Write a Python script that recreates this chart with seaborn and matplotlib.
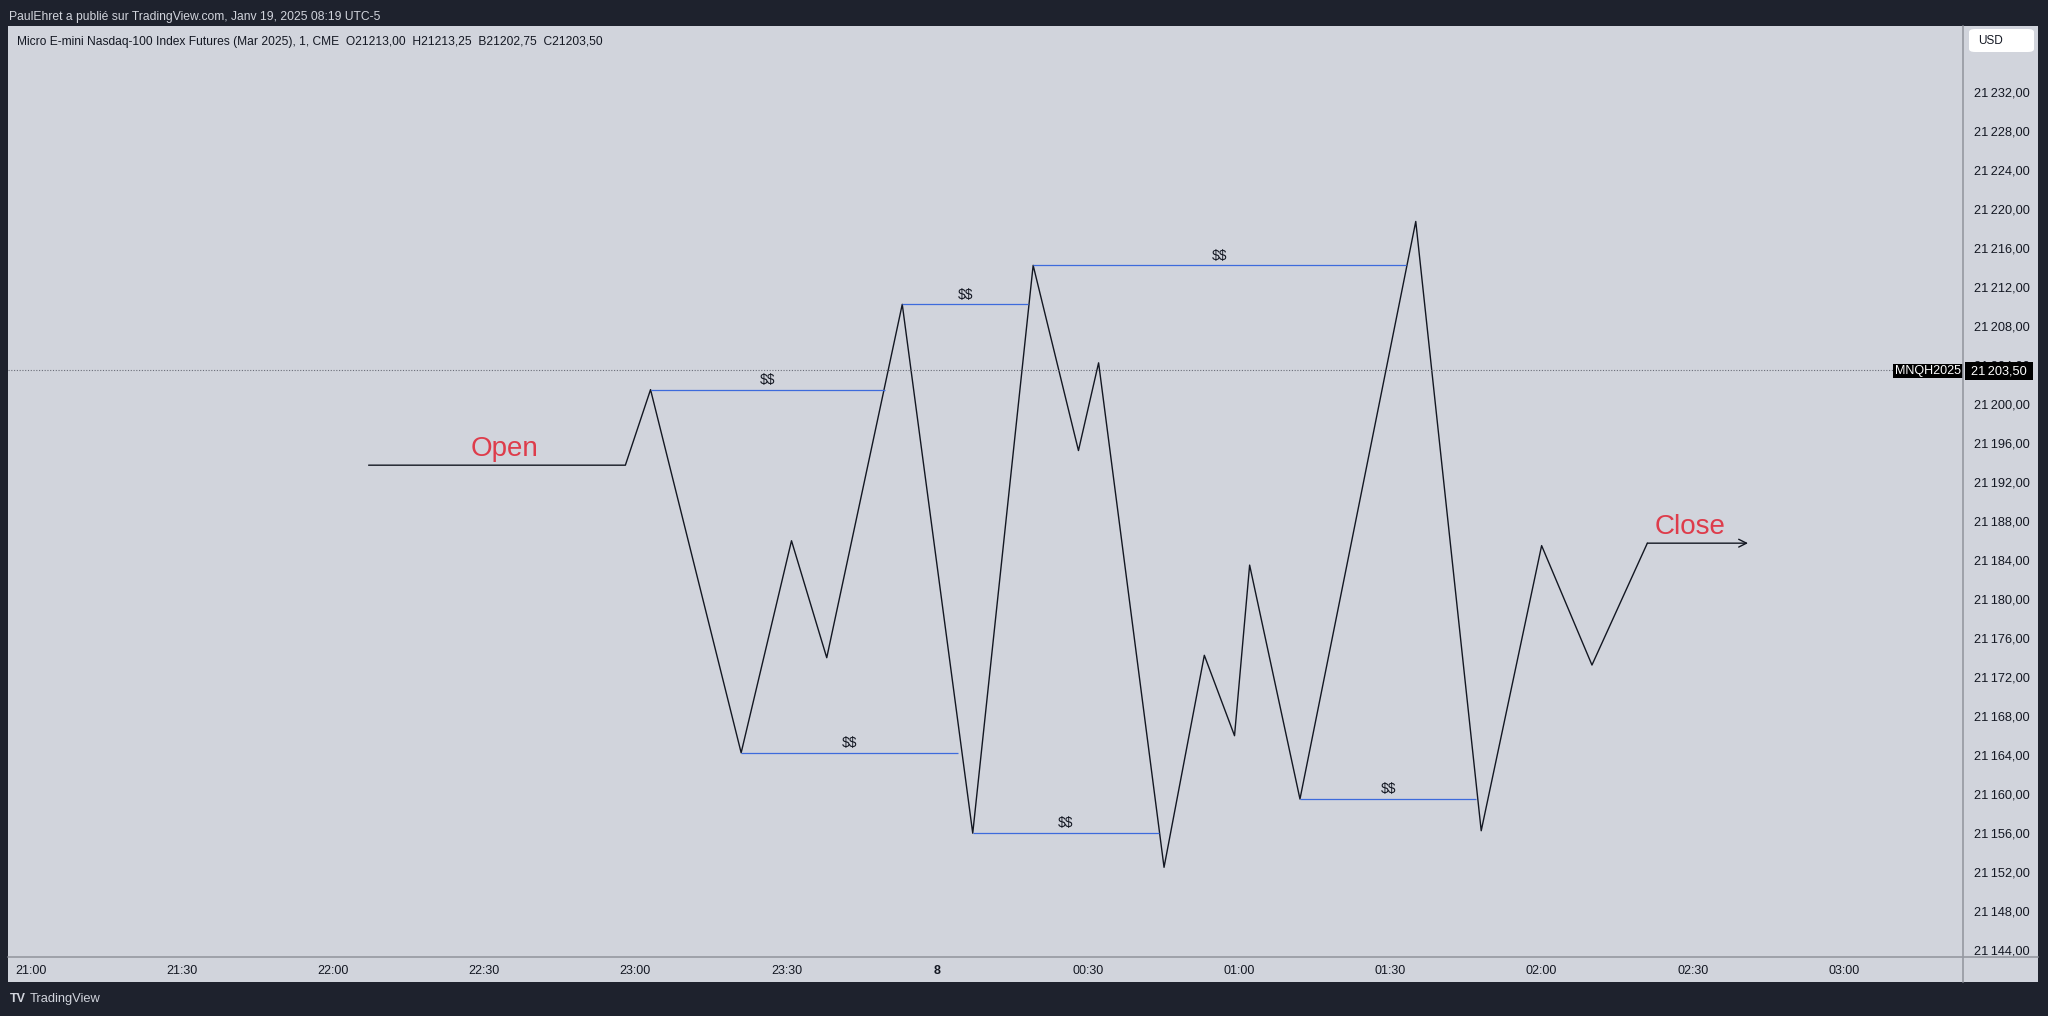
import matplotlib
matplotlib.use("Agg")
import matplotlib.pyplot as plt
import seaborn as sns
import pandas as pd
from matplotlib.lines import Line2D
from matplotlib.patches import FancyBboxPatch

W, H = 2048, 1016

# price path (minutes after 21:00, price)
path_minutes = [67, 118, 123, 141, 151, 158, 173, 187, 199, 208, 212, 225, 233, 239, 242,
                252, 275, 288, 300, 310, 321]
path_prices = [21193.75, 21193.75, 21201.5, 21164.25, 21186.0, 21174.0, 21210.25, 21156.0,
               21214.25, 21195.25, 21204.25, 21152.5, 21174.25, 21166.0, 21183.5, 21159.5,
               21218.75, 21156.25, 21185.5, 21173.25, 21185.75]
close_arrow_end = 341

# liquidity ($$) levels
liq_levels = [21201.5, 21210.25, 21214.25, 21164.25, 21156.0, 21159.5]
liq_start = [123, 173, 199, 141, 187, 252]
liq_end = [169.5, 198, 273, 184, 224, 287]

last_price = 21203.5

# axis labels
time_ticks = [0, 30, 60, 90, 120, 150, 180, 210, 240, 270, 300, 330, 360]
time_labels = ["21:00", "21:30", "22:00", "22:30", "23:00", "23:30", "8",
               "00:30", "01:00", "01:30", "02:00", "02:30", "03:00"]
price_ticks = list(range(21144, 21233, 4))

sns.set_theme(style="white")
plt.rcParams['font.family'] = ['Liberation Sans', 'DejaVu Sans']
plt.rcParams['text.parse_math'] = False

dark = "#1e222d"
pane = "#d1d4dc"
sep = "#9598a1"

fig = plt.figure(figsize=(W / 100, H / 100), dpi=100, facecolor=dark)

# light pane background (chart + axes strips)
bg = fig.add_axes([8 / W, 1 - 982 / H, (2038 - 8) / W, (982 - 26) / H])
bg.set_facecolor(pane)
bg.set_xticks([])
bg.set_yticks([])
for s in bg.spines.values():
    s.set_visible(False)

ax = fig.add_axes([8 / W, 1 - 957 / H, (1963 - 8) / W, (957 - 26) / H])
ax.set_facecolor("none")
for s in ax.spines.values():
    s.set_visible(False)

df = pd.DataFrame({"t": path_minutes, "p": path_prices})
sns.lineplot(data=df, x="t", y="p", sort=False, estimator=None, color="#131722",
             linewidth=1.0, ax=ax)
ax.annotate("", xy=(close_arrow_end, path_prices[-1]), xytext=(path_minutes[-1], path_prices[-1]),
            arrowprops=dict(arrowstyle="->", color="#131722", lw=1.0, shrinkA=0, shrinkB=0,
                            mutation_scale=14))

ax.hlines(liq_levels, liq_start, liq_end, colors="#3d6bdc", linewidth=0.9)
for lv, a, b in zip(liq_levels, liq_start, liq_end):
    ax.annotate("$$", xy=((a + b) / 2, lv), xytext=(0, 2), textcoords="offset points",
                ha="center", va="bottom", fontsize=10, color="#131722")

ax.axhline(last_price, color="#6a6d78", linestyle=(0, (1, 1.5)), linewidth=0.8)

ax.text(94, 21194.1, "Open", ha="center", va="bottom", fontsize=20, color="#de3c4b")
ax.text(329.5, 21186.1, "Close", ha="center", va="bottom", fontsize=20, color="#de3c4b")

ax.set_xlim(-4.63, 383.7)
ax.set_ylim(21143.3, 21238.8)
ax.set_xlabel("")
ax.set_ylabel("")

ax.set_xticks(time_ticks)
ax.set_xticklabels(time_labels)
for lab in ax.get_xticklabels():
    if lab.get_text() == "8":
        lab.set_fontweight("bold")
ax.yaxis.tick_right()
ax.set_yticks(price_ticks)
ax.set_yticklabels([f"{p // 1000}\u2009{p % 1000:03d},00" for p in price_ticks])
ax.tick_params(axis="x", length=0, pad=6, labelsize=9, labelcolor="#131722")
ax.tick_params(axis="y", length=0, pad=8, labelsize=9.2, labelcolor="#131722")
ax.grid(False)

# separators between chart and axis strips
fig.add_artist(Line2D([8 / W, 2038 / W], [1 - 957 / H, 1 - 957 / H], color=sep, lw=1.2))
fig.add_artist(Line2D([1963 / W, 1963 / W], [1 - 26 / H, 1 - 982 / H], color=sep, lw=1.2))

# last price tags
fig.patches.append(FancyBboxPatch((1893 / W, 1 - 378 / H), 70 / W, 14 / H,
                                  boxstyle="square,pad=0", fc="black", ec="none",
                                  transform=fig.transFigure, figure=fig))
fig.patches.append(FancyBboxPatch((1965 / W, 1 - 380 / H), 68 / W, 18 / H,
                                  boxstyle="square,pad=0", fc="black", ec="none",
                                  transform=fig.transFigure, figure=fig, zorder=5))
fig.text(1928 / W, 1 - 371 / H, "MNQH2025", color="white", fontsize=9, ha="center", va="center")
fig.text(1999 / W, 1 - 371 / H, "21\u2009203,50", color="white", fontsize=9.2,
         ha="center", va="center", zorder=6)

# USD box
fig.patches.append(FancyBboxPatch((1969 / W, 1 - 52 / H), 65 / W, 23 / H,
                                  boxstyle="round,pad=0,rounding_size=0.003", fc="white",
                                  ec="none", transform=fig.transFigure, figure=fig))
fig.text(1978 / W, 1 - 41 / H, "USD", color="#131722", fontsize=8.5, va="center")

# header / legend text
fig.text(9 / W, 1 - 17 / H, "PaulEhret a publié sur TradingView.com, Janv 19, 2025 08:19 UTC-5",
         color="#d1d4dc", fontsize=8.7, va="center")
fig.text(17 / W, 1 - 42 / H,
         "Micro E-mini Nasdaq-100 Index Futures (Mar 2025), 1, CME  O21213,00  H21213,25  "
         "B21202,75  C21203,50", color="#131722", fontsize=8.65, va="center")

# footer logo
fig.text(10 / W, 1 - 999 / H, "TV", color="#d1d4dc", fontsize=9, fontweight="heavy", va="center")
fig.text(30 / W, 1 - 999 / H, "TradingView", color="#d1d4dc", fontsize=9.3, va="center")

fig.savefig("out.png", dpi=100, facecolor=dark)
